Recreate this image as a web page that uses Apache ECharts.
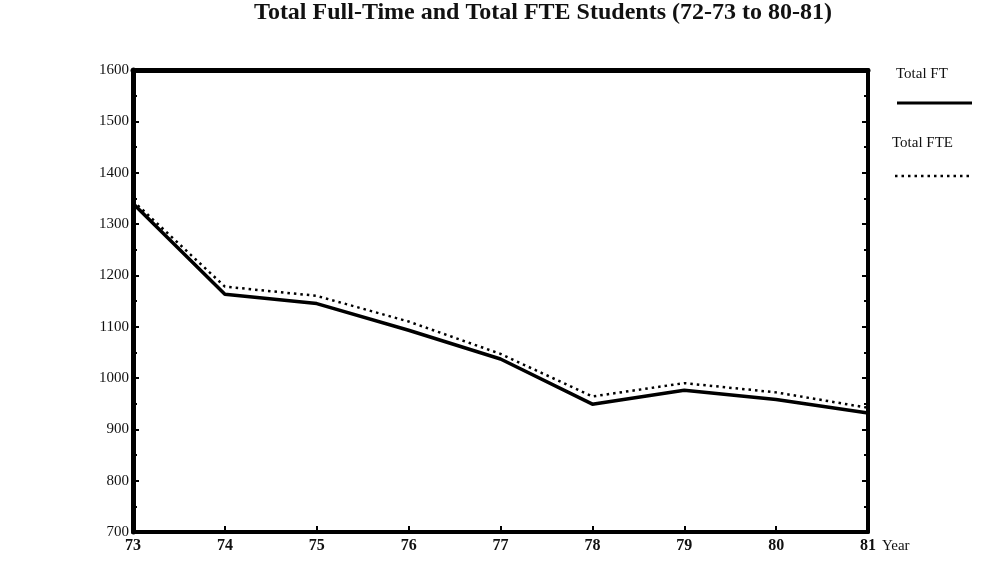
<!DOCTYPE html>
<html>
<head>
<meta charset="utf-8">
<script src="https://cdn.jsdelivr.net/npm/echarts@6/dist/echarts.min.js"></script>
<style>
  html, body { margin: 0; padding: 0; background: #fff; }
  #chart { width: 985px; height: 570px; }
</style>
</head>
<body>
<div id="chart"></div>
<script>
// years shown on the x axis (73 = 72-73 ... 81 = 80-81)
var years = [73, 74, 75, 76, 77, 78, 79, 80, 81];
var totalFT = [1340, 1163, 1145, 1093, 1037, 949, 976, 958, 932];
var totalFTE = [1345, 1178, 1160, 1110, 1047, 964, 990, 972, 942];
var yTicks = [700, 800, 900, 1000, 1100, 1200, 1300, 1400, 1500, 1600];

var serif = '"Liberation Serif", "DejaVu Serif", serif';

var myChart = echarts.init(document.getElementById('chart'));

function pairs(vals) {
    return years.map(function (y, i) { return [y, vals[i]]; });
}

var option = {
    backgroundColor: '#fff',
    animation: false,
    title: {
        text: 'Total Full-Time and Total FTE Students (72-73 to 80-81)',
        left: 538,
        textAlign: 'center',
        top: -4,
        textStyle: { fontFamily: serif, fontSize: 24, fontWeight: 'bold', color: '#111' }
    },
    grid: { left: 133, right: 117, top: 70, bottom: 38, show: false },
    xAxis: [{
        type: 'value',
        min: 73, max: 81, interval: 1,
        name: 'Year',
        nameLocation: 'end',
        nameGap: 8,
        nameTextStyle: { fontFamily: serif, fontSize: 15, color: '#111', verticalAlign: 'top', padding: [7, 0, 0, 0] },
        axisLine: { lineStyle: { color: '#000', width: 4 } },
        axisTick: { inside: true, length: 6, lineStyle: { color: '#000', width: 2 } },
        axisLabel: { fontFamily: serif, fontSize: 16, fontWeight: 'bold', color: '#111', margin: 6,
            formatter: function (v) { return String(v); } },
        splitLine: { show: false }
    }, {
        type: 'value', position: 'top',
        min: 73, max: 81, interval: 1,
        axisLine: { lineStyle: { color: '#000', width: 5 } },
        axisTick: { show: false }, axisLabel: { show: false }, splitLine: { show: false }
    }],
    yAxis: [{
        type: 'value',
        min: 700, max: 1600, interval: 100,
        axisLine: { lineStyle: { color: '#000', width: 5 } },
        axisTick: { inside: true, length: 6, lineStyle: { color: '#000', width: 2 } },
        minorTick: { show: true, splitNumber: 2, length: 4, lineStyle: { color: '#000', width: 2 } },
        axisLabel: { fontFamily: serif, fontSize: 15, color: '#111', margin: 4,
            formatter: function (v) { return yTicks.indexOf(v) >= 0 ? String(v) : ''; } },
        splitLine: { show: false }
    }, {
        type: 'value', position: 'right',
        min: 700, max: 1600, interval: 100,
        axisLine: { show: true, lineStyle: { color: '#000', width: 4 } },
        axisTick: { inside: true, length: 6, lineStyle: { color: '#000', width: 2 } },
        minorTick: { show: true, splitNumber: 2, length: 4, lineStyle: { color: '#000', width: 2 } },
        axisLabel: { show: false }, splitLine: { show: false }
    }],
    series: [{
        name: 'Total FTE',
        type: 'line',
        data: pairs(totalFTE),
        symbol: 'none',
        lineStyle: { color: '#000', width: 2.5, type: [2.5, 4] },
        z: 2
    }, {
        name: 'Total FT',
        type: 'line',
        data: pairs(totalFT),
        symbol: 'none',
        lineStyle: { color: '#000', width: 3.5 },
        z: 3
    }],
    graphic: [
        { type: 'text', left: 896, top: 67, style: { text: 'Total FT', font: '15px ' + serif, fill: '#111' } },
        { type: 'line', shape: { x1: 897, y1: 103, x2: 972, y2: 103 }, style: { stroke: '#000', lineWidth: 3 } },
        { type: 'text', left: 892, top: 136, style: { text: 'Total FTE', font: '15px ' + serif, fill: '#111' } },
        { type: 'line', shape: { x1: 895, y1: 176, x2: 970, y2: 176 }, style: { stroke: '#000', lineWidth: 2.5, lineDash: [2.5, 4] } }
    ]
};

myChart.setOption(option);
</script>
</body>
</html>
